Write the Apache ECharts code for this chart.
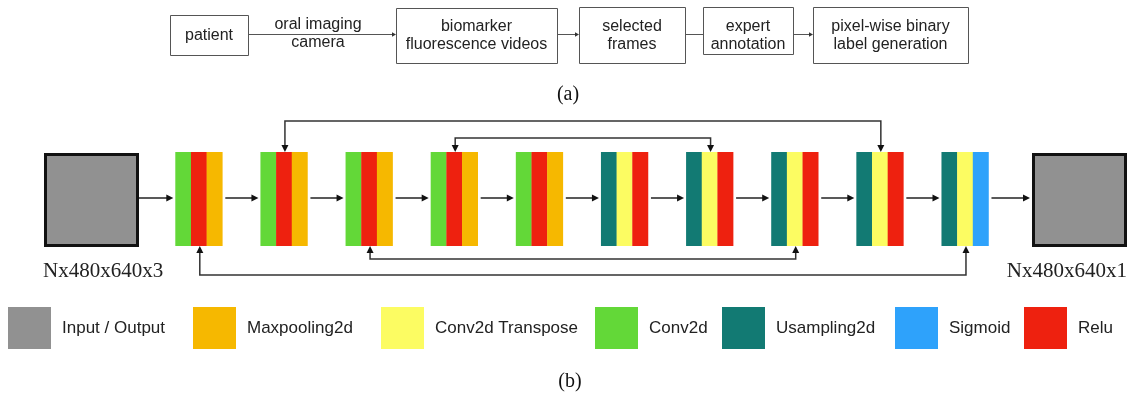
<!DOCTYPE html>
<html><head><meta charset="utf-8">
<script src="https://cdn.jsdelivr.net/npm/echarts@6/dist/echarts.min.js"></script>
<style>html,body{margin:0;padding:0;background:#fff}#c{width:1133px;height:401px}</style>
</head><body><div id="c"></div>
<script>
// ---------------- data ----------------
const flowSteps = ['patient', 'biomarker\nfluorescence videos', 'selected\nframes', 'expert\nannotation', 'pixel-wise binary\nlabel generation'];
const flowLinkLabels = ['oral imaging\ncamera', '', '', ''];
const flowLinkArrow = [true, true, false, true];
const layerNames = ['Input / Output', 'Maxpooling2d', 'Conv2d Transpose', 'Conv2d', 'Usampling2d', 'Sigmoid', 'Relu'];
const blockLayers = [
  ['Conv2d', 'Relu', 'Maxpooling2d'],
  ['Conv2d', 'Relu', 'Maxpooling2d'],
  ['Conv2d', 'Relu', 'Maxpooling2d'],
  ['Conv2d', 'Relu', 'Maxpooling2d'],
  ['Conv2d', 'Relu', 'Maxpooling2d'],
  ['Usampling2d', 'Conv2d Transpose', 'Relu'],
  ['Usampling2d', 'Conv2d Transpose', 'Relu'],
  ['Usampling2d', 'Conv2d Transpose', 'Relu'],
  ['Usampling2d', 'Conv2d Transpose', 'Relu'],
  ['Usampling2d', 'Conv2d Transpose', 'Sigmoid']
];
const skipTop = [[1, 8], [3, 6]];
const skipBottom = [[0, 9], [2, 7]];
const shapeLabels = ['Nx480x640x3', 'Nx480x640x1'];
const panelLabels = ['(a)', '(b)'];

// ---------------- styles & layout ----------------
const COLORS = {
  'Input / Output': '#919191', 'Maxpooling2d': '#F6B800', 'Conv2d Transpose': '#FCFC62',
  'Conv2d': '#63D838', 'Usampling2d': '#127A73', 'Sigmoid': '#2EA2FB', 'Relu': '#EE210F'
};
const SANS = '"Liberation Sans", Arial, sans-serif';
const SERIF = '"Liberation Serif", "Times New Roman", serif';
const L = {
  flowBoxes: [[170, 248, 15, 55], [396, 557, 8, 63], [579, 685, 7, 63], [703, 793, 7, 54], [813, 968, 7, 63]],
  flowY: 34, flowTextY: 36,
  blockX0: 198.8, blockDX: 85.13, blockW: 47, blockTop: 152, blockBot: 246,
  ioBoxes: [[44, 139], [1032, 1127]], ioTop: 153, ioBot: 247,
  arrowY: 198,
  skipTopY: [121, 138], skipBotY: [275, 259],
  legendX: [8, 193, 381, 595, 722, 895, 1024], legendTop: 307, legendW: 43, legendH: 42, legendGap: 11,
  shapeLabelY: 271,
  panelPos: [[568, 95], [570, 382]]
};

const blockCenter = i => L.blockX0 + L.blockDX * i;

function arrowHead(api, tip, dir, len, half, color) {
  let pts;
  const [tx, ty] = tip;
  if (dir === 'r') pts = [[tx, ty], [tx - len, ty - half], [tx - len, ty + half]];
  else if (dir === 'd') pts = [[tx, ty], [tx - half, ty - len], [tx + half, ty - len]];
  else pts = [[tx, ty], [tx - half, ty + len], [tx + half, ty + len]];
  return { type: 'polygon', shape: { points: pts.map(p => api.coord(p)) }, style: { fill: color } };
}

// ---- (a) flow boxes
function renderFlowBox(params, api) {
  const i = api.value(0);
  const [x1, x2, y1, y2] = L.flowBoxes[i];
  const a = api.coord([x1, y1]), b = api.coord([x2, y2]);
  const c = api.coord([(x1 + x2) / 2, L.flowTextY]);
  return { type: 'group', children: [
    { type: 'rect', shape: { x: a[0] + 0.5, y: a[1] + 0.5, width: b[0] - a[0], height: b[1] - a[1] },
      style: { fill: '#fff', stroke: '#555', lineWidth: 1 } },
    { type: 'text', x: c[0], y: c[1], style: { text: flowSteps[i], font: '16px ' + SANS, fill: '#222',
      align: 'center', verticalAlign: 'middle', lineHeight: 18 } }
  ] };
}
function renderFlowLink(params, api) {
  const i = api.value(0);
  const xs = L.flowBoxes[i][1], xe = L.flowBoxes[i + 1][0];
  const s = api.coord([xs, L.flowY + 0.5]), e = api.coord([xe - (flowLinkArrow[i] ? 3 : 0), L.flowY + 0.5]);
  const ch = [{ type: 'line', shape: { x1: s[0], y1: s[1], x2: e[0], y2: e[1] }, style: { stroke: '#555', lineWidth: 1 } }];
  if (flowLinkArrow[i]) ch.push(arrowHead(api, [xe, L.flowY + 0.5], 'r', 4, 2.2, '#333'));
  if (flowLinkLabels[i]) {
    const c = api.coord([(xs + xe) / 2 - 4, L.flowY]);
    ch.push({ type: 'text', x: c[0], y: c[1], style: { text: flowLinkLabels[i], font: '16px ' + SANS, fill: '#222',
      align: 'center', verticalAlign: 'middle', lineHeight: 18 } });
  }
  return { type: 'group', children: ch };
}

// ---- (b) network
function renderIO(params, api) {
  const i = api.value(0);
  const [x1, x2] = L.ioBoxes[i];
  const a = api.coord([x1, L.ioTop]), b = api.coord([x2, L.ioBot]);
  const lx = i === 0 ? x1 - 1 : x2;
  const t = api.coord([lx, L.shapeLabelY]);
  return { type: 'group', children: [
    { type: 'rect', shape: { x: a[0] + 1.5, y: a[1] + 1.5, width: b[0] - a[0] - 3, height: b[1] - a[1] - 3 },
      style: { fill: COLORS['Input / Output'], stroke: '#111', lineWidth: 3 } },
    { type: 'text', x: t[0], y: t[1], style: { text: shapeLabels[i], font: '21px ' + SERIF, fill: '#222',
      align: i === 0 ? 'left' : 'right', verticalAlign: 'middle' } }
  ] };
}
function renderBlock(params, api) {
  const i = api.value(0);
  const layers = blockLayers[i];
  const left = blockCenter(i) - L.blockW / 2;
  const sw = L.blockW / layers.length;
  return { type: 'group', children: layers.map((name, k) => {
    const a = api.coord([left + k * sw, L.blockTop]), b = api.coord([left + (k + 1) * sw, L.blockBot]);
    return { type: 'rect', shape: { x: a[0], y: a[1], width: b[0] - a[0] + 0.3, height: b[1] - a[1] },
      style: { fill: COLORS[name] } };
  }) };
}
function nodeEdges(j) {
  if (j === 0) return [L.ioBoxes[0][0], L.ioBoxes[0][1]];
  if (j === blockLayers.length + 1) return [L.ioBoxes[1][0], L.ioBoxes[1][1]];
  const c = blockCenter(j - 1);
  return [c - L.blockW / 2, c + L.blockW / 2];
}
function renderForward(params, api) {
  const j = api.value(0);
  const xs = nodeEdges(j)[1] + (j === 0 ? 0 : 3);
  const xe = nodeEdges(j + 1)[0] - 2;
  const s = api.coord([xs, L.arrowY]), e = api.coord([xe - 5, L.arrowY]);
  return { type: 'group', children: [
    { type: 'line', shape: { x1: s[0], y1: s[1], x2: e[0], y2: e[1] }, style: { stroke: '#222', lineWidth: 1.5 } },
    arrowHead(api, [xe, L.arrowY], 'r', 7, 3.5, '#111')
  ] };
}
function renderSkip(params, api) {
  const top = api.value(0) === 0;
  const k = api.value(1);
  const pair = top ? skipTop[k] : skipBottom[k];
  const y = top ? L.skipTopY[k] : L.skipBotY[k];
  const edge = top ? L.blockTop : L.blockBot;
  const x1 = blockCenter(pair[0]) + 1, x2 = blockCenter(pair[1]) + 1;
  const stop = top ? edge - 6 : edge + 6;
  const pts = [[x1, stop], [x1, y], [x2, y], [x2, stop]].map(p => api.coord(p));
  return { type: 'group', children: [
    { type: 'polyline', shape: { points: pts }, style: { stroke: '#333', lineWidth: 1.5, fill: null } },
    arrowHead(api, [x1, edge], top ? 'd' : 'u', 7, 3.5, '#111'),
    arrowHead(api, [x2, edge], top ? 'd' : 'u', 7, 3.5, '#111')
  ] };
}
function renderLegend(params, api) {
  const i = api.value(0);
  const x = L.legendX[i];
  const a = api.coord([x, L.legendTop]), b = api.coord([x + L.legendW, L.legendTop + L.legendH]);
  const t = api.coord([x + L.legendW + L.legendGap, L.legendTop + L.legendH / 2]);
  return { type: 'group', children: [
    { type: 'rect', shape: { x: a[0], y: a[1], width: b[0] - a[0], height: b[1] - a[1] }, style: { fill: COLORS[layerNames[i]] } },
    { type: 'text', x: t[0], y: t[1], style: { text: layerNames[i], font: '17px ' + SANS, fill: '#222', align: 'left', verticalAlign: 'middle' } }
  ] };
}
function renderPanel(params, api) {
  const i = api.value(0);
  const p = api.coord(L.panelPos[i]);
  return { type: 'text', x: p[0], y: p[1], style: { text: panelLabels[i], font: '20px ' + SERIF, fill: '#111', align: 'center', verticalAlign: 'middle' } };
}

const idx = n => Array.from({ length: n }, (_, i) => [i]);
const common = { type: 'custom', coordinateSystem: 'cartesian2d', clip: false, silent: true, animation: false };
const chart = echarts.init(document.getElementById('c'), null, { renderer: 'canvas' });
chart.setOption({
  backgroundColor: '#fff',
  animation: false,
  grid: { left: 0, right: 0, top: 0, bottom: 0 },
  xAxis: { type: 'value', min: 0, max: 1133, show: false },
  yAxis: { type: 'value', min: 0, max: 401, inverse: true, show: false },
  series: [
    Object.assign({ name: 'flowLinks', renderItem: renderFlowLink, data: idx(flowLinkLabels.length) }, common),
    Object.assign({ name: 'flowSteps', renderItem: renderFlowBox, data: idx(flowSteps.length) }, common),
    Object.assign({ name: 'forward', renderItem: renderForward, data: idx(blockLayers.length + 1) }, common),
    Object.assign({ name: 'skips', renderItem: renderSkip,
      data: skipTop.map((_, k) => [0, k]).concat(skipBottom.map((_, k) => [1, k])) }, common),
    Object.assign({ name: 'io', renderItem: renderIO, data: idx(2) }, common),
    Object.assign({ name: 'blocks', renderItem: renderBlock, data: idx(blockLayers.length) }, common),
    Object.assign({ name: 'legend', renderItem: renderLegend, data: idx(layerNames.length) }, common),
    Object.assign({ name: 'panels', renderItem: renderPanel, data: idx(panelLabels.length) }, common)
  ]
});
</script>
</body></html>
